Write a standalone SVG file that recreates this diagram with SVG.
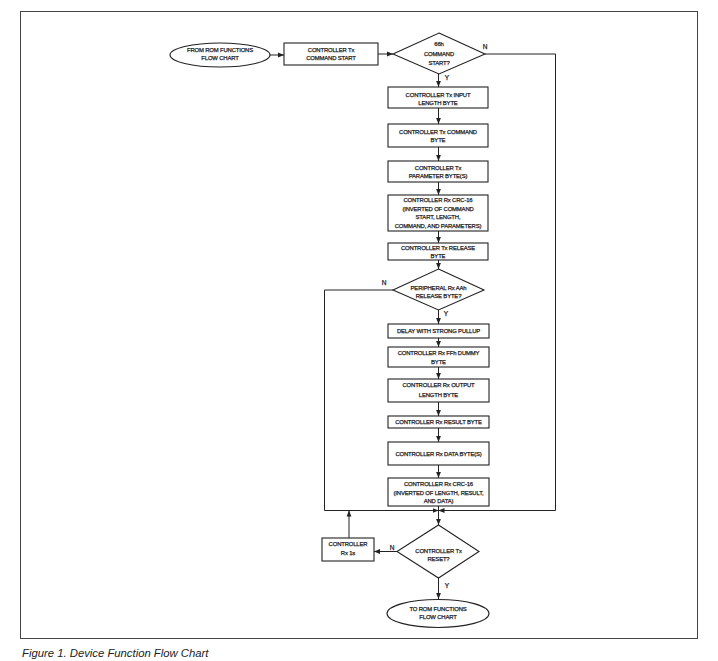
<svg xmlns="http://www.w3.org/2000/svg" width="718" height="661" viewBox="0 0 718 661">
<style>
.n{fill:#fff;stroke:#222;stroke-width:1.1}
.t{font-family:"Liberation Sans",Arial,sans-serif;font-size:5.9px;fill:#222;stroke:#222;stroke-width:0.25;text-anchor:middle;letter-spacing:-0.15px}
.l{font-family:"Liberation Sans",Arial,sans-serif;font-size:6.5px;fill:#222;stroke:#222;stroke-width:0.25;text-anchor:middle}
.c{fill:none;stroke:#222;stroke-width:1}
</style>
<defs>
<marker id="a" viewBox="0 0 6 6" refX="6" refY="3" markerWidth="6" markerHeight="6" markerUnits="userSpaceOnUse" orient="auto"><path d="M0,0.6 L6,3 L0,5.4 Z" fill="#222"/></marker>
</defs>
<rect x="0" y="0" width="718" height="661" fill="#fff"/>
<rect x="20.5" y="11.5" width="677" height="627" fill="none" stroke="#444" stroke-width="1"/>
<g id="connectors">
<path class="c" d="M270,55 H284" marker-end="url(#a)"/>
<path class="c" d="M378,54 H393" marker-end="url(#a)"/>
<path class="c" d="M438.5,74 V87" marker-end="url(#a)"/>
<path class="c" d="M438.5,108 V124" marker-end="url(#a)"/>
<path class="c" d="M438.5,147 V161" marker-end="url(#a)"/>
<path class="c" d="M438.5,182 V195" marker-end="url(#a)"/>
<path class="c" d="M438.5,231 V243" marker-end="url(#a)"/>
<path class="c" d="M438.5,260 V269" marker-end="url(#a)"/>
<path class="c" d="M438.5,310 V324" marker-end="url(#a)"/>
<path class="c" d="M438.5,338 V347" marker-end="url(#a)"/>
<path class="c" d="M438.5,367 V379" marker-end="url(#a)"/>
<path class="c" d="M438.5,402 V416" marker-end="url(#a)"/>
<path class="c" d="M438.5,428 V442" marker-end="url(#a)"/>
<path class="c" d="M438.5,465 V478" marker-end="url(#a)"/>
<path class="c" d="M438.5,506 V525" marker-end="url(#a)"/>
<path class="c" d="M485,54 H555.5 V510.5 H438.5" marker-end="url(#a)"/>
<path class="c" d="M393,290 H324.5 V510.5 H438.5" marker-end="url(#a)"/>
<path class="c" d="M349,538 V510.5" marker-end="url(#a)"/>
<path class="c" d="M397,551.5 H374" marker-end="url(#a)"/>
<path class="c" d="M438.5,578 V599" marker-end="url(#a)"/>
<text class="l" x="485" y="49">N</text>
<text class="l" x="447" y="80">Y</text>
<text class="l" x="384" y="285">N</text>
<text class="l" x="446" y="315.5">Y</text>
<text class="l" x="392" y="550">N</text>
<text class="l" x="447" y="588">Y</text>
</g>
<g id="start"><ellipse class="n" cx="220" cy="55" rx="50" ry="12"/><text class="t" x="220" y="51.5">FROM ROM FUNCTIONS</text><text class="t" x="220" y="59.5">FLOW CHART</text></g>
<g id="cmdstart"><rect class="n" x="284" y="43" width="94" height="22"/><text class="t" x="331" y="51.5">CONTROLLER Tx</text><text class="t" x="331" y="59.5">COMMAND START</text></g>
<g id="d66"><polygon class="n" points="439,33 485,54 439,74 393,54"/><text class="t" x="439" y="45.5">66h</text><text class="t" x="439" y="55.5">COMMAND</text><text class="t" x="439" y="65">START?</text></g>
<g id="inlen"><rect class="n" x="388" y="87" width="100" height="21"/><text class="t" x="438" y="96.5">CONTROLLER Tx INPUT</text><text class="t" x="438" y="105">LENGTH BYTE</text></g>
<g id="cmdbyte"><rect class="n" x="388" y="124" width="100" height="23"/><text class="t" x="438" y="134">CONTROLLER Tx COMMAND</text><text class="t" x="438" y="141.5">BYTE</text></g>
<g id="param"><rect class="n" x="388" y="161" width="100" height="21"/><text class="t" x="438" y="170">CONTROLLER Tx</text><text class="t" x="438" y="178">PARAMETER  BYTE(S)</text></g>
<g id="crc1"><rect class="n" x="388" y="195" width="100" height="36"/><text class="t" x="438" y="201.5">CONTROLLER Rx CRC-16</text><text class="t" x="438" y="210.5">(INVERTED OF COMMAND</text><text class="t" x="438" y="219">START, LENGTH,</text><text class="t" x="438" y="228">COMMAND, AND PARAMETERS)</text></g>
<g id="release"><rect class="n" x="388" y="243" width="100" height="17"/><text class="t" x="438" y="249.5">CONTROLLER Tx RELEASE</text><text class="t" x="438" y="258">BYTE</text></g>
<g id="dAA"><polygon class="n" points="438.5,269 484,290 438.5,310 393,290"/><text class="t" x="438.5" y="289.5">PERIPHERAL Rx AAh</text><text class="t" x="438.5" y="298">RELEASE BYTE?</text></g>
<g id="delay"><rect class="n" x="388" y="324" width="101" height="14"/><text class="t" x="438.5" y="333">DELAY WITH STRONG PULLUP</text></g>
<g id="dummy"><rect class="n" x="388" y="347" width="101" height="20"/><text class="t" x="438.5" y="354.5">CONTROLLER Rx FFh DUMMY</text><text class="t" x="438.5" y="364">BYTE</text></g>
<g id="outlen"><rect class="n" x="388" y="379" width="101" height="23"/><text class="t" x="438.5" y="387">CONTROLLER Rx OUTPUT</text><text class="t" x="438.5" y="396.5">LENGTH BYTE</text></g>
<g id="result"><rect class="n" x="388" y="416" width="101" height="12"/><text class="t" x="438.5" y="424">CONTROLLER Rx RESULT BYTE</text></g>
<g id="data"><rect class="n" x="388" y="442" width="101" height="23"/><text class="t" x="438.5" y="455.5">CONTROLLER Rx DATA BYTE(S)</text></g>
<g id="crc2"><rect class="n" x="388" y="478" width="101" height="28"/><text class="t" x="438.5" y="485.5">CONTROLLER Rx CRC-16</text><text class="t" x="438.5" y="494.5">(INVERTED OF LENGTH, RESULT,</text><text class="t" x="438.5" y="503">AND DATA)</text></g>
<g id="rx1s"><rect class="n" x="322" y="538" width="52" height="23"/><text class="t" x="348" y="546">CONTROLLER</text><text class="t" x="348" y="555">Rx 1s</text></g>
<g id="dreset"><polygon class="n" points="438.5,525 479,551.5 438.5,578 397,551.5"/><text class="t" x="438.5" y="553">CONTROLLER Tx</text><text class="t" x="438.5" y="561">RESET?</text></g>
<g id="end"><ellipse class="n" cx="438" cy="613.5" rx="51" ry="14"/><text class="t" x="438" y="610.5">TO ROM FUNCTIONS</text><text class="t" x="438" y="619">FLOW CHART</text></g>
<text x="22" y="657" font-family="Liberation Sans, Arial, sans-serif" font-size="11.3" font-style="italic" fill="#222">Figure 1. Device Function Flow Chart</text>
</svg>
